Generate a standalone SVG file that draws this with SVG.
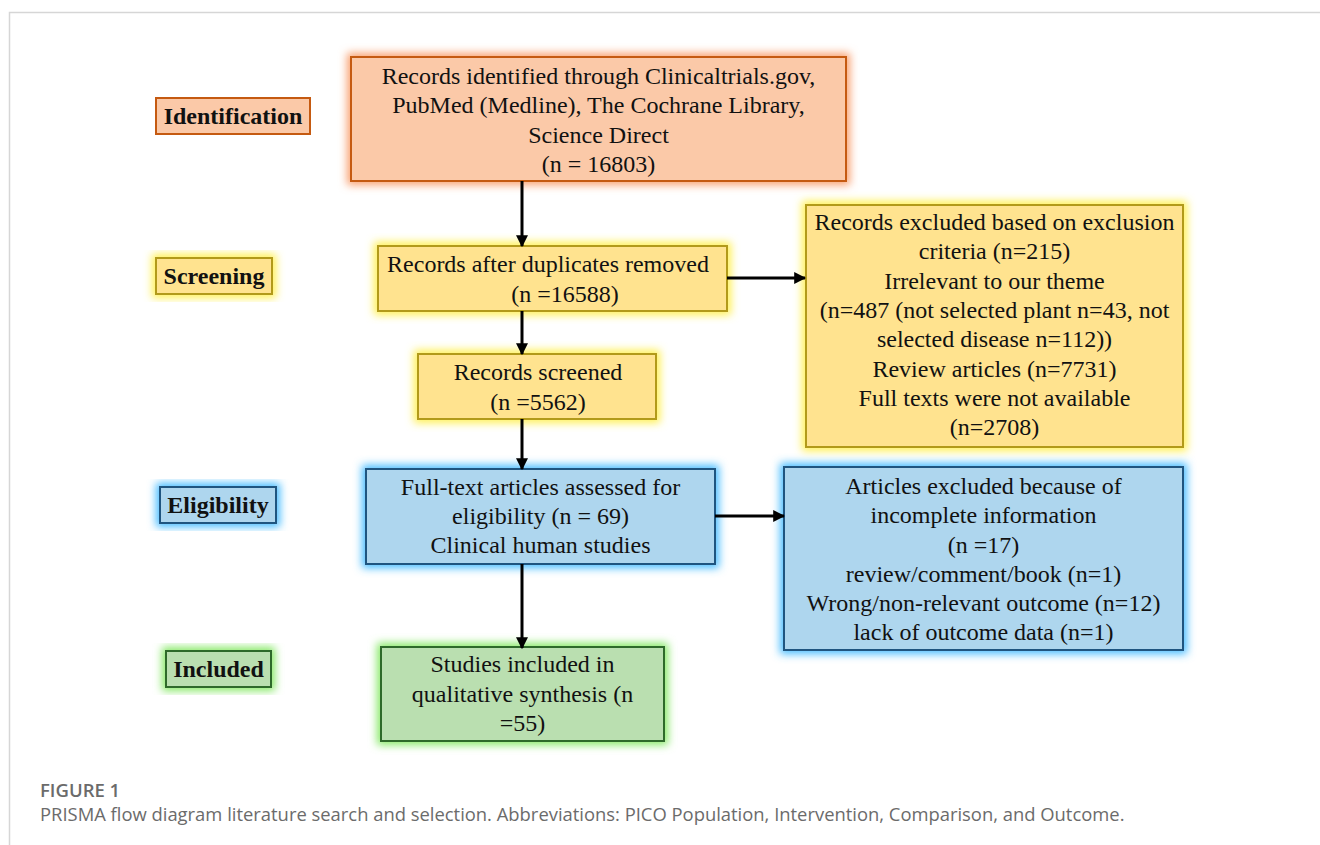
<svg xmlns="http://www.w3.org/2000/svg" width="1320" height="845" viewBox="0 0 1320 845">
<style>
  .t { font-family: "Liberation Serif", "Times New Roman", serif; font-size: 24px; fill: #111; text-anchor: middle; }
  .lb { font-family: "Liberation Serif", "Times New Roman", serif; font-size: 24px; font-weight: bold; fill: #111; text-anchor: middle; }
  .cap1 { font-family: "Open Sans", "Liberation Sans", sans-serif; font-size: 18.5px; font-weight: 600; fill: #6b6b6b; }
  .cap2 { font-family: "Open Sans", "Liberation Sans", sans-serif; font-size: 18.4px; fill: #6b6b6b; }
  .o { fill: #FBC9A8; stroke: #C55A11; stroke-width: 2; }
  .y { fill: #FFE38F; stroke: #B29A1A; stroke-width: 2; }
  .b { fill: #AED6EE; stroke: #1F5580; stroke-width: 2; }
  .g { fill: #BADFB0; stroke: #2E6A2A; stroke-width: 2; }
  .go { fill: #F9A878; stroke: #F9A070; stroke-width: 8; filter: url(#glow); }
  .gy { fill: #FFF36A; stroke: #FFF050; stroke-width: 8; filter: url(#glow); }
  .gb { fill: #5CC4FF; stroke: #45BBFF; stroke-width: 8; filter: url(#glow); }
  .gg { fill: #8EEA6E; stroke: #86E866; stroke-width: 8; filter: url(#glow); }
  .arr { stroke: #000; stroke-width: 3; fill: none; marker-end: url(#ah); }
</style>
<defs>
  <filter id="glow" x="-20%" y="-20%" width="140%" height="140%">
    <feGaussianBlur stdDeviation="4"/>
  </filter>
  <marker id="ah" viewBox="0 0 10 10" refX="9" refY="5" markerWidth="4" markerHeight="4" orient="auto" markerUnits="strokeWidth">
    <path d="M0,0 L10,5 L0,10 z" fill="#000"/>
  </marker>
</defs>
<rect x="0" y="0" width="1320" height="845" fill="#fff"/>
<path d="M9.5,845 L9.5,12.5 L1320,12.5" fill="none" stroke="#d6d6d6" stroke-width="1.5"/>

<g id="label-identification">
  <rect class="o" x="156" y="98" width="154" height="36"/>
  <text class="lb" x="233" y="124">Identification</text>
</g>
<g id="label-screening">
  <rect class="gy" x="156" y="258" width="116" height="36"/>
  <rect class="y" x="156" y="258" width="116" height="36"/>
  <text class="lb" x="214" y="284">Screening</text>
</g>
<g id="label-eligibility">
  <rect class="gb" x="160" y="487" width="116" height="36"/>
  <rect class="b" x="160" y="487" width="116" height="36"/>
  <text class="lb" x="218" y="513">Eligibility</text>
</g>
<g id="label-included">
  <rect class="gg" x="166" y="651" width="105" height="36"/>
  <rect class="g" x="166" y="651" width="105" height="36"/>
  <text class="lb" x="218.5" y="677">Included</text>
</g>

<g id="node-identified">
  <rect class="go" x="351" y="57" width="495" height="124"/>
  <rect class="o" x="351" y="57" width="495" height="124"/>
  <text class="t" x="598.5" y="84">Records identified through Clinicaltrials.gov,</text>
  <text class="t" x="598.5" y="113">PubMed (Medline), The Cochrane Library,</text>
  <text class="t" x="598.5" y="143">Science Direct</text>
  <text class="t" x="598.5" y="172">(n = 16803)</text>
</g>

<g id="node-duplicates">
  <rect class="gy" x="378" y="246" width="349" height="65"/>
  <rect class="y" x="378" y="246" width="349" height="65"/>
  <text class="t" x="548" y="272">Records after duplicates removed</text>
  <text class="t" x="565" y="302">(n =16588)</text>
</g>

<g id="node-screened">
  <rect class="gy" x="418" y="354" width="238" height="65"/>
  <rect class="y" x="418" y="354" width="238" height="65"/>
  <text class="t" x="538" y="380">Records screened</text>
  <text class="t" x="538" y="410">(n =5562)</text>
</g>

<g id="node-excluded-records">
  <rect class="gy" x="806" y="205" width="377" height="242"/>
  <rect class="y" x="806" y="205" width="377" height="242"/>
  <text class="t" x="994.5" y="230">Records excluded based on exclusion</text>
  <text class="t" x="994.5" y="259.3">criteria (n=215)</text>
  <text class="t" x="994.5" y="288.6">Irrelevant to our theme</text>
  <text class="t" x="994.5" y="317.9">(n=487 (not selected plant n=43, not</text>
  <text class="t" x="994.5" y="347.2">selected disease n=112))</text>
  <text class="t" x="994.5" y="376.5">Review articles (n=7731)</text>
  <text class="t" x="994.5" y="405.8">Full texts were not available</text>
  <text class="t" x="994.5" y="435.1">(n=2708)</text>
</g>

<g id="node-fulltext">
  <rect class="gb" x="366" y="469" width="349" height="95"/>
  <rect class="b" x="366" y="469" width="349" height="95"/>
  <text class="t" x="540.5" y="495">Full-text articles assessed for</text>
  <text class="t" x="540.5" y="524">eligibility (n = 69)</text>
  <text class="t" x="540.5" y="553">Clinical human studies</text>
</g>

<g id="node-excluded-articles">
  <rect class="gb" x="784" y="467" width="399" height="183"/>
  <rect class="b" x="784" y="467" width="399" height="183"/>
  <text class="t" x="983.5" y="494">Articles excluded because of</text>
  <text class="t" x="983.5" y="523">incomplete information</text>
  <text class="t" x="983.5" y="553">(n =17)</text>
  <text class="t" x="983.5" y="582">review/comment/book (n=1)</text>
  <text class="t" x="983.5" y="611">Wrong/non-relevant outcome (n=12)</text>
  <text class="t" x="983.5" y="640">lack of outcome data (n=1)</text>
</g>

<g id="node-included">
  <rect class="gg" x="381" y="647" width="283" height="94"/>
  <rect class="g" x="381" y="647" width="283" height="94"/>
  <text class="t" x="522.5" y="672">Studies included in</text>
  <text class="t" x="522.5" y="702">qualitative synthesis (n</text>
  <text class="t" x="522.5" y="731">=55)</text>
</g>

<g id="connectors">
  <line class="arr" x1="522" y1="181" x2="522" y2="246"/>
  <line class="arr" x1="522" y1="311" x2="522" y2="354"/>
  <line class="arr" x1="522" y1="419" x2="522" y2="469"/>
  <line class="arr" x1="522" y1="564" x2="522" y2="648"/>
  <line class="arr" x1="727" y1="278" x2="805" y2="278"/>
  <line class="arr" x1="715" y1="516" x2="784" y2="516"/>
</g>

<g id="caption">
  <text class="cap1" x="40" y="797">FIGURE 1</text>
  <text class="cap2" x="40" y="821">PRISMA flow diagram literature search and selection. Abbreviations: PICO Population, Intervention, Comparison, and Outcome.</text>
</g>
</svg>
